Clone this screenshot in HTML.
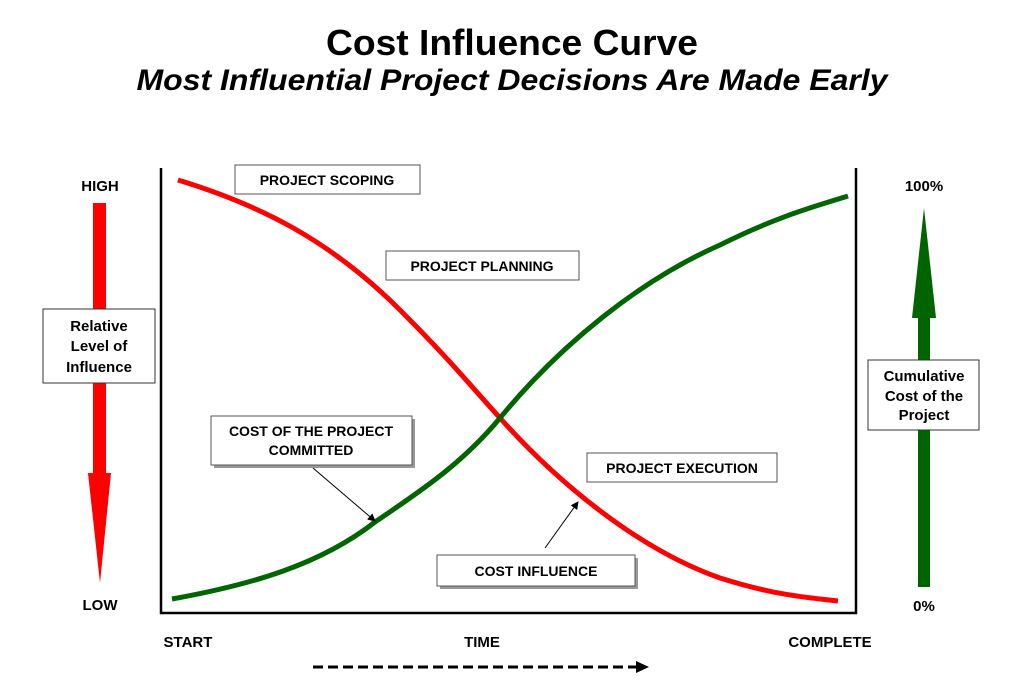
<!DOCTYPE html>
<html><head><meta charset="utf-8"><style>
html,body{margin:0;padding:0;background:#fff;}
svg{display:block;font-family:"Liberation Sans",Arial,sans-serif;font-weight:bold;}
</style></head><body>
<svg width="1030" height="683" viewBox="0 0 1030 683" xmlns="http://www.w3.org/2000/svg">
<defs>
<marker id="ah" markerWidth="8" markerHeight="8" refX="7" refY="4" orient="auto" markerUnits="userSpaceOnUse"><path d="M0,0 L8,4 L0,8 z" fill="#000"/></marker>
</defs>
<text x="512" y="55" font-size="36" text-anchor="middle" textLength="372" lengthAdjust="spacingAndGlyphs">Cost Influence Curve</text>
<text x="512" y="90" font-size="30" font-style="italic" text-anchor="middle" textLength="751" lengthAdjust="spacingAndGlyphs">Most Influential Project Decisions Are Made Early</text>

<!-- axes frame -->
<path d="M161,168 L161,613 L856,613 L856,168" fill="none" stroke="#000" stroke-width="2.5"/>

<!-- left red arrow -->
<rect x="93" y="203" width="13" height="272" fill="#ff0000"/>
<path d="M88,473 L111,473 L100,583 z" fill="#ff0000"/>
<text x="100" y="191" font-size="15" text-anchor="middle">HIGH</text>
<text x="100" y="610" font-size="15" text-anchor="middle">LOW</text>
<rect x="43" y="309" width="112" height="74" fill="#fff" stroke="#333" stroke-width="1"/>
<text x="99" y="331" font-size="15" text-anchor="middle">Relative</text>
<text x="99" y="351" font-size="15" text-anchor="middle">Level of</text>
<text x="99" y="372" font-size="15" text-anchor="middle">Influence</text>

<!-- right green arrow -->
<rect x="918" y="315" width="12" height="272" fill="#006400"/>
<path d="M912,318 L936,318 L924,208 z" fill="#006400"/>
<text x="924" y="191" font-size="15" text-anchor="middle">100%</text>
<text x="924" y="611" font-size="15" text-anchor="middle">0%</text>
<rect x="868" y="360" width="111" height="70" fill="#fff" stroke="#333" stroke-width="1"/>
<text x="924" y="381" font-size="15" text-anchor="middle">Cumulative</text>
<text x="924" y="401" font-size="15" text-anchor="middle">Cost of the</text>
<text x="924" y="420" font-size="15" text-anchor="middle">Project</text>

<!-- curves -->
<path d="M178,180 C260,205 330,240 400,310 C450,360 470,385 500,418 C560,485 640,550 720,578 C780,597 815,598 838,601" fill="none" stroke="#ff0000" stroke-width="5"/>
<path d="M172,599 C250,585 320,565 375,522 C430,485 465,460 500,418 C560,345 640,280 720,245 C780,215 820,205 848,196" fill="none" stroke="#006400" stroke-width="5"/>

<!-- labels -->
<rect x="235" y="165" width="185" height="29" fill="#fff" stroke="#555" stroke-width="1"/>
<text x="327" y="185" font-size="14" text-anchor="middle">PROJECT SCOPING</text>
<rect x="386" y="251" width="193" height="29" fill="#fff" stroke="#555" stroke-width="1"/>
<text x="482" y="271" font-size="14" text-anchor="middle">PROJECT PLANNING</text>
<rect x="587" y="453" width="190" height="29" fill="#fff" stroke="#555" stroke-width="1"/>
<text x="682" y="473" font-size="14" text-anchor="middle">PROJECT EXECUTION</text>

<rect x="214" y="419" width="201" height="49" fill="#999"/>
<rect x="211" y="416" width="201" height="49" fill="#fff" stroke="#555" stroke-width="1"/>
<text x="311" y="436" font-size="14" text-anchor="middle">COST OF THE PROJECT</text>
<text x="311" y="455" font-size="14" text-anchor="middle">COMMITTED</text>

<rect x="440" y="558" width="198" height="31" fill="#999"/>
<rect x="437" y="555" width="198" height="31" fill="#fff" stroke="#555" stroke-width="1"/>
<text x="536" y="576" font-size="14" text-anchor="middle">COST INFLUENCE</text>

<line x1="313" y1="468" x2="375" y2="521" stroke="#000" stroke-width="1" marker-end="url(#ah)"/>
<line x1="545" y1="548" x2="578" y2="502" stroke="#000" stroke-width="1" marker-end="url(#ah)"/>

<!-- bottom -->
<text x="188" y="647" font-size="15" text-anchor="middle">START</text>
<text x="482" y="647" font-size="15" text-anchor="middle">TIME</text>
<text x="830" y="647" font-size="15" text-anchor="middle">COMPLETE</text>
<line x1="313" y1="667" x2="638" y2="667" stroke="#000" stroke-width="3" stroke-dasharray="10,5"/>
<path d="M636,661 L649,667 L636,673 z" fill="#000"/>
</svg>
</body></html>
